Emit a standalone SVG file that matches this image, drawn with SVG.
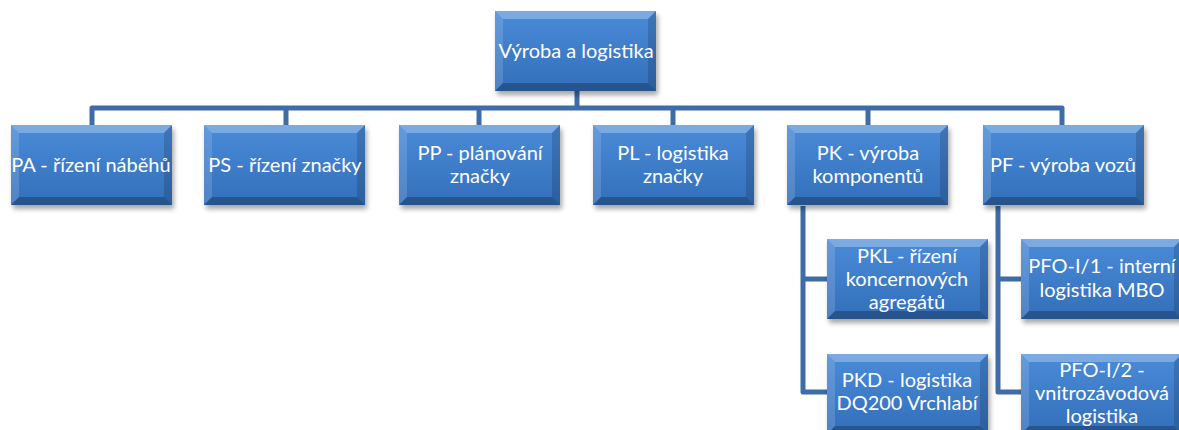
<svg xmlns="http://www.w3.org/2000/svg" xmlns:xlink="http://www.w3.org/1999/xlink" width="1179" height="430" viewBox="0 0 1179 430">
<style>
.t{font-family:Lato,"Liberation Sans",sans-serif;font-size:20px;fill:#ffffff;text-anchor:middle}
.c{fill:none;stroke:#3d6ca6;stroke-width:5;stroke-linejoin:round}
</style>
<defs>
<linearGradient id="g" x1="0" y1="0" x2="0" y2="1">
<stop offset="0" stop-color="#4a8bd8"/>
<stop offset="1" stop-color="#336fba"/>
</linearGradient>
<filter id="sh" x="-10%" y="-10%" width="120%" height="130%">
<feGaussianBlur stdDeviation="2.5"/>
</filter>
<g id="box">
<rect x="2" y="4" width="161" height="80" fill="#000" opacity="0.35" filter="url(#sh)"/>
<rect x="0" y="0" width="161" height="80" fill="url(#g)"/>
<polygon points="0,0 161,0 153,8 8,8" fill="#fff" opacity="0.28"/>
<polygon points="0,0 8,8 8,72 0,80" fill="#fff" opacity="0.14"/>
<polygon points="0,80 8,72 153,72 161,80" fill="#000" opacity="0.25"/>
<polygon points="161,0 161,80 153,72 153,8" fill="#000" opacity="0.15"/>
</g>
</defs>
<rect width="1179" height="430" fill="#fff"/>
<g id="connectors">
<path class="c" d="M577,90 V108"/>
<path class="c" d="M92,125 V108 H1062 V125"/>
<path class="c" d="M286,108 V125 M479,108 V125 M673,108 V125 M868,108 V125"/>
<path class="c" d="M803,206 V392 H827 M803,279 H827"/>
<path class="c" d="M998,206 V392 H1021 M998,279 H1021"/>
</g>
<g id="n-root"><use href="#box" x="495" y="11"/><text class="t" x="576" y="58">Výroba a logistika</text></g>
<g id="n-pa"><use href="#box" x="11" y="125"/><text class="t" x="91" y="172">PA - řízení náběhů</text></g>
<g id="n-ps"><use href="#box" x="204" y="125"/><text class="t" x="285" y="172">PS - řízení značky</text></g>
<g id="n-pp"><use href="#box" x="399" y="125"/><text class="t" x="480" y="160">PP - plánování</text><text class="t" x="480" y="183">značky</text></g>
<g id="n-pl"><use href="#box" x="593" y="125"/><text class="t" x="673" y="160">PL - logistika</text><text class="t" x="673" y="183">značky</text></g>
<g id="n-pk"><use href="#box" x="787" y="125"/><text class="t" x="868" y="160">PK - výroba</text><text class="t" x="868" y="183">komponentů</text></g>
<g id="n-pf"><use href="#box" x="983" y="125"/><text class="t" x="1063" y="172">PF - výroba vozů</text></g>
<g id="n-pkl"><use href="#box" x="827" y="239"/><text class="t" x="907" y="263">PKL - řízení</text><text class="t" x="907" y="286">koncernových</text><text class="t" x="907" y="309">agregátů</text></g>
<g id="n-pkd"><use href="#box" x="827" y="354"/><text class="t" x="907" y="387">PKD - logistika</text><text class="t" x="907" y="410">DQ200 Vrchlabí</text></g>
<g id="n-pfo1"><use href="#box" x="1021" y="239"/><text class="t" x="1102" y="273">PFO-I/1 - interní</text><text class="t" x="1102" y="297">logistika MBO</text></g>
<g id="n-pfo2"><use href="#box" x="1021" y="354"/><text class="t" x="1102" y="377">PFO-I/2 -</text><text class="t" x="1102" y="400">vnitrozávodová</text><text class="t" x="1102" y="423">logistika</text></g>
</svg>
